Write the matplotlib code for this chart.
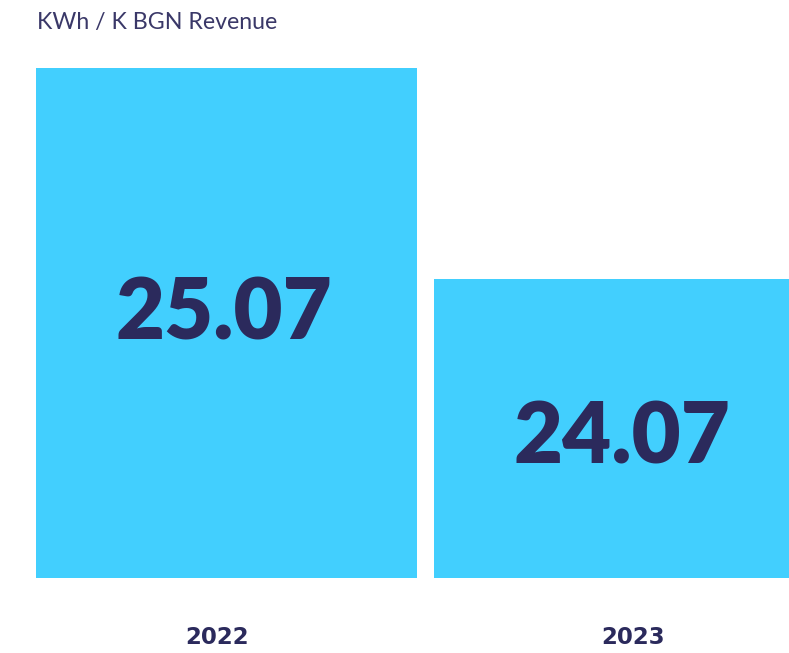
import matplotlib
matplotlib.use("Agg")
import matplotlib.pyplot as plt

years = ["2022", "2023"]
values = [25.07, 24.07]
value_labels = ["25.07", "24.07"]
title = "KWh / K BGN Revenue"

BAR = "#42CFFE"
NAVY = "#2B2A5C"
Y0 = 22.653

fig = plt.figure(figsize=(7.89, 6.53), dpi=100)
ax = fig.add_axes([36 / 789, 1 - 578 / 653, 1 - 36 / 789, (578 - 68) / 653])

x = list(range(len(years)))
ax.bar(x, values, width=0.957, color=BAR)
ax.set_ylim(Y0, 25.07)
ax.set_xlim(-0.4786, 1.4146)

# big numbers inside bars (placement)
label_y = [23.900, 23.315]
for xi, ly, lab in zip(x, label_y, value_labels):
    ax.text(xi - 0.005, ly, lab, ha="center", va="center", fontsize=61,
            fontweight="heavy", family="Lato", color=NAVY)

# year labels under the bars
year_dx = [-0.0226, 0.0226]
for xi, dx, yr in zip(x, year_dx, years):
    ax.text(xi + dx, 22.340, yr, ha="center", va="baseline", fontsize=16.5,
            fontweight="bold", family="DejaVu Sans", color=NAVY)

ax.set_xticks([])
ax.set_yticks([])
for s in ax.spines.values():
    s.set_visible(False)

fig.text(37 / 789, 1 - 23 / 653, title, ha="left", va="center", fontsize=16.7,
         family="Lato", fontweight="normal", color="#3A3868")

fig.savefig("out.png", dpi=100)
